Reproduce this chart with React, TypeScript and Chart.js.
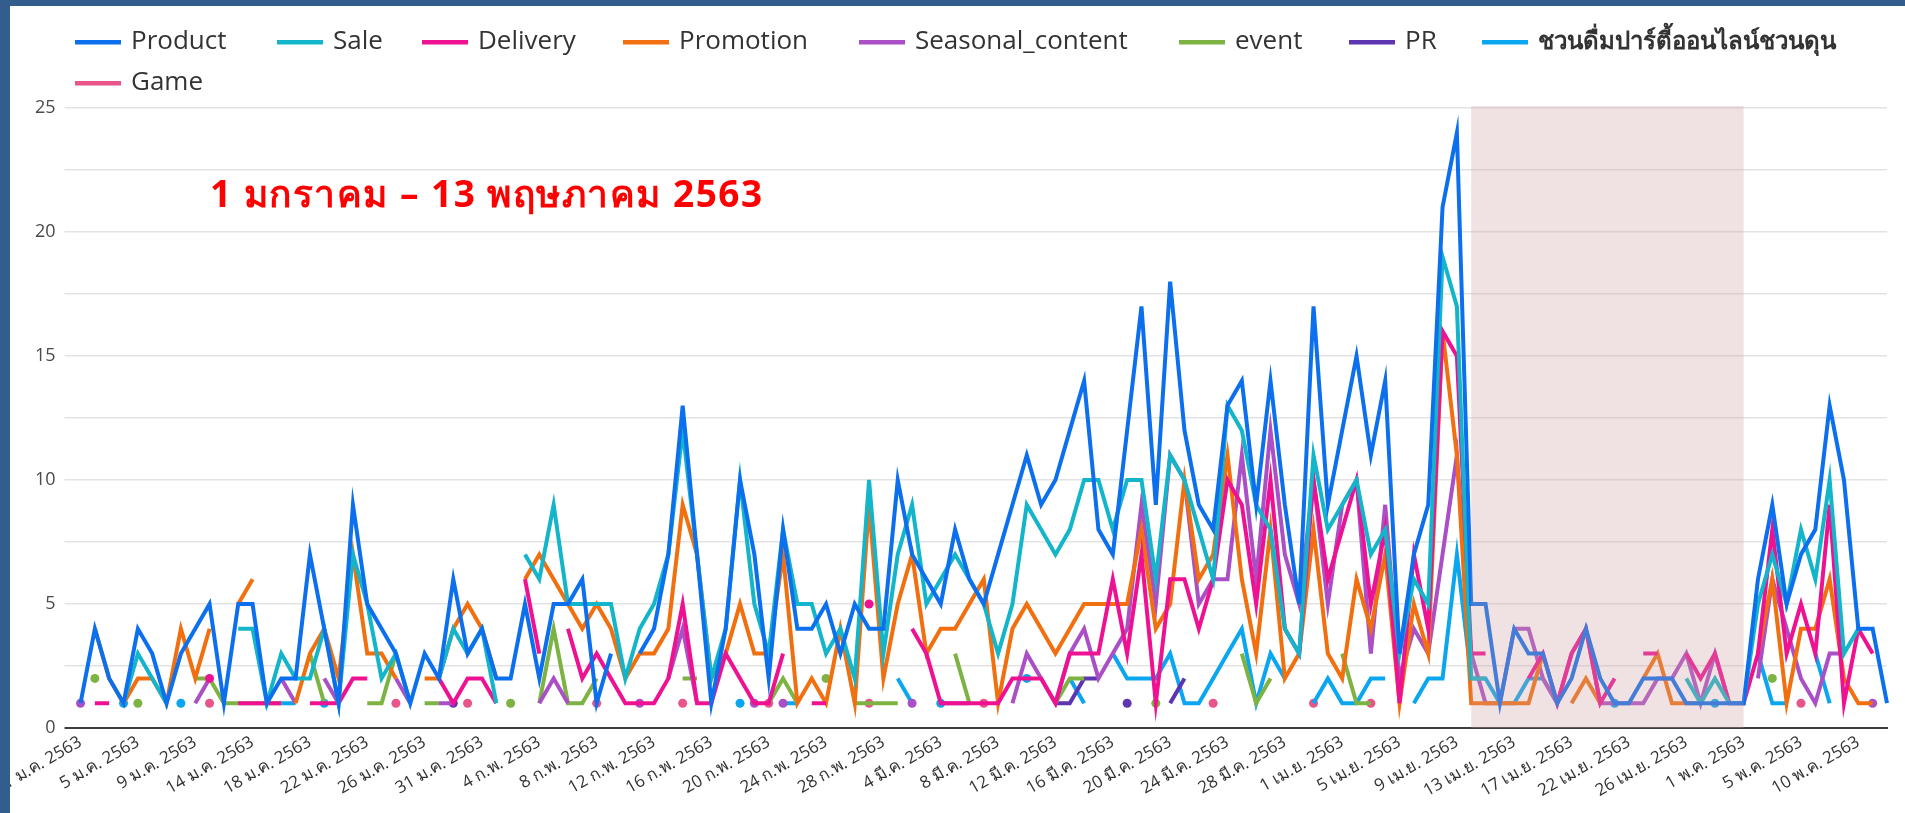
import React, { useEffect, useRef } from 'react';
import { Chart, registerables } from 'chart.js';

Chart.register(...registerables);

const _ = null;

const categories: string[] = [
  '1 ม.ค. 2563', '2 ม.ค. 2563', '3 ม.ค. 2563', '4 ม.ค. 2563', '5 ม.ค. 2563', '6 ม.ค. 2563', '7 ม.ค. 2563', '8 ม.ค. 2563', '9 ม.ค. 2563', '10 ม.ค. 2563',
  '11 ม.ค. 2563', '13 ม.ค. 2563', '14 ม.ค. 2563', '15 ม.ค. 2563', '16 ม.ค. 2563', '17 ม.ค. 2563', '18 ม.ค. 2563', '19 ม.ค. 2563', '20 ม.ค. 2563', '21 ม.ค. 2563',
  '22 ม.ค. 2563', '23 ม.ค. 2563', '24 ม.ค. 2563', '25 ม.ค. 2563', '26 ม.ค. 2563', '27 ม.ค. 2563', '28 ม.ค. 2563', '30 ม.ค. 2563', '31 ม.ค. 2563', '1 ก.พ. 2563',
  '2 ก.พ. 2563', '3 ก.พ. 2563', '4 ก.พ. 2563', '5 ก.พ. 2563', '6 ก.พ. 2563', '7 ก.พ. 2563', '8 ก.พ. 2563', '9 ก.พ. 2563', '10 ก.พ. 2563', '11 ก.พ. 2563',
  '12 ก.พ. 2563', '13 ก.พ. 2563', '14 ก.พ. 2563', '15 ก.พ. 2563', '16 ก.พ. 2563', '17 ก.พ. 2563', '18 ก.พ. 2563', '19 ก.พ. 2563', '20 ก.พ. 2563', '21 ก.พ. 2563',
  '22 ก.พ. 2563', '23 ก.พ. 2563', '24 ก.พ. 2563', '25 ก.พ. 2563', '26 ก.พ. 2563', '27 ก.พ. 2563', '28 ก.พ. 2563', '1 มี.ค. 2563', '2 มี.ค. 2563', '3 มี.ค. 2563',
  '4 มี.ค. 2563', '5 มี.ค. 2563', '6 มี.ค. 2563', '7 มี.ค. 2563', '8 มี.ค. 2563', '9 มี.ค. 2563', '10 มี.ค. 2563', '11 มี.ค. 2563', '12 มี.ค. 2563', '13 มี.ค. 2563',
  '14 มี.ค. 2563', '15 มี.ค. 2563', '16 มี.ค. 2563', '17 มี.ค. 2563', '18 มี.ค. 2563', '19 มี.ค. 2563', '20 มี.ค. 2563', '21 มี.ค. 2563', '22 มี.ค. 2563', '23 มี.ค. 2563',
  '24 มี.ค. 2563', '25 มี.ค. 2563', '26 มี.ค. 2563', '27 มี.ค. 2563', '28 มี.ค. 2563', '29 มี.ค. 2563', '30 มี.ค. 2563', '31 มี.ค. 2563', '1 เม.ย. 2563', '2 เม.ย. 2563',
  '3 เม.ย. 2563', '4 เม.ย. 2563', '5 เม.ย. 2563', '6 เม.ย. 2563', '7 เม.ย. 2563', '8 เม.ย. 2563', '9 เม.ย. 2563', '10 เม.ย. 2563', '11 เม.ย. 2563', '12 เม.ย. 2563',
  '13 เม.ย. 2563', '14 เม.ย. 2563', '15 เม.ย. 2563', '16 เม.ย. 2563', '17 เม.ย. 2563', '18 เม.ย. 2563', '19 เม.ย. 2563', '20 เม.ย. 2563', '22 เม.ย. 2563', '23 เม.ย. 2563',
  '24 เม.ย. 2563', '25 เม.ย. 2563', '26 เม.ย. 2563', '27 เม.ย. 2563', '28 เม.ย. 2563', '30 เม.ย. 2563', '1 พ.ค. 2563', '2 พ.ค. 2563', '3 พ.ค. 2563', '4 พ.ค. 2563',
  '5 พ.ค. 2563', '6 พ.ค. 2563', '7 พ.ค. 2563', '9 พ.ค. 2563', '10 พ.ค. 2563', '11 พ.ค. 2563', '13 พ.ค. 2563',
];

const product = [
  1, 4, 2, 1, 4, 3, 1, 3, 4, 5,
  1, 5, 5, 1, 2, 2, 7, 4, 1, 9,
  5, 4, 3, 1, 3, 2, 6, 3, 4, 2,
  2, 5, 2, 5, 5, 6, 1, 3, _, 3,
  4, 7, 13, 7, 1, 4, 10, 7, 2, 8,
  4, 4, 5, 3, 5, 4, 4, 10, 7, 6,
  5, 8, 6, 5, 7, 9, 11, 9, 10, 12,
  14, 8, 7, 12, 17, 9, 18, 12, 9, 8,
  13, 14, 9, 14, 9, 5, 17, 9, 12, 15,
  11, 14, 3, 7, 9, 21, 24, 5, 5, 1,
  4, 3, 3, 1, 2, 4, 2, 1, 1, 2,
  2, 2, 1, 1, 1, 1, 1, 6, 9, 5,
  7, 8, 13, 10, 4, 4, 1,
];

const sale = [
  _, _, _, 1, 3, 2, 1, _, _, _,
  _, 4, 4, 1, 3, 2, 2, 4, 1, 7,
  5, 2, 3, 1, _, 2, 4, 3, 4, 1,
  _, 7, 6, 9, 5, 5, 5, 5, 2, 4,
  5, 7, 12, 7, 2, 4, 10, 5, 3, 8,
  5, 5, 3, 4, 2, 10, 3, 7, 9, 5,
  6, 7, 6, 5, 3, 5, 9, 8, 7, 8,
  10, 10, 8, 10, 10, 6, 11, 10, 8, 6,
  13, 12, 9, 8, 4, 3, 11, 8, 9, 10,
  7, 8, 3, 6, 5, 19, 17, 2, 2, _,
  _, _, _, _, _, _, _, _, _, _,
  _, _, 2, 1, 2, 1, 1, 5, 7, 5,
  8, 6, 10, 3, 4, _, _,
];

const delivery = [
  _, 1, 1, _, _, _, _, _, _, 2,
  _, 1, 1, 1, 1, _, 1, 1, 1, 2,
  2, _, _, _, _, 2, 1, 2, 2, 1,
  _, 6, 3, _, 4, 2, 3, 2, 1, 1,
  1, 2, 5, 1, 1, 3, 2, 1, 1, 3,
  _, 1, 1, _, _, 5, _, _, 4, 3,
  1, 1, 1, 1, 1, 2, 2, 2, 1, 3,
  3, 3, 6, 3, 7, 1, 6, 6, 4, 6,
  10, 9, 5, 10, 4, 3, 10, 6, 8, 10,
  5, 8, 1, 7, 4, 16, 15, 3, 3, _,
  _, 2, 3, 1, 3, 4, 1, 2, _, 3,
  3, _, 3, 2, 3, 1, 1, 3, 8, 3,
  5, 3, 9, 1, 4, 3, _,
];

const promotion = [
  _, 4, 2, 1, 2, 2, 1, 4, 2, 4,
  _, 5, 6, _, _, 1, 3, 4, 2, 7,
  3, 3, 2, _, 2, 2, 4, 5, 4, 2,
  _, 6, 7, 6, 5, 4, 5, 4, 2, 3,
  3, 4, 9, 7, 2, 3, 5, 3, 3, 7,
  1, 2, 1, 4, 1, 9, 2, 5, 7, 3,
  4, 4, 5, 6, 1, 4, 5, 4, 3, 4,
  5, 5, 5, 5, 8, 4, 5, 10, 6, 7,
  11, 6, 3, 8, 2, 3, 8, 3, 2, 6,
  4, 7, 1, 5, 3, 16, 11, 1, 1, 1,
  1, 1, 3, _, 1, 2, 1, _, _, 2,
  3, 1, 1, 1, _, _, _, 3, 6, 1,
  4, 4, 6, 2, 1, 1, _,
];

const seasonal = [
  1, _, _, _, _, _, _, _, 1, 2,
  _, _, _, _, 2, 1, _, 2, 1, _,
  _, _, 2, 1, _, 1, 1, _, _, _,
  _, _, 1, 2, 1, _, _, _, _, 1,
  _, 2, 4, 1, _, _, _, 1, _, 1,
  _, _, _, _, _, _, _, _, 1, _,
  1, 1, 1, _, _, 1, 3, 2, 1, 3,
  4, 2, 3, 4, 9, 5, 11, 10, 5, 6,
  6, 11, 6, 12, 7, 5, 10, 5, 9, 10,
  3, 9, 2, 4, 3, 7, 11, 3, 1, 1,
  4, 4, 2, 1, 3, 4, 1, 1, 1, 1,
  2, 2, 3, 1, 3, 1, _, 2, 6, 4,
  2, 1, 3, 3, _, 1, _,
];

const eventSeries = [
  _, 2, _, _, 1, _, _, _, 2, 2,
  1, 1, 1, 1, 1, _, 3, 1, _, _,
  1, 1, 3, _, 1, 1, _, _, _, _,
  1, _, 1, 4, 1, 1, 2, _, _, _,
  _, _, 2, 2, _, _, _, _, 1, 2,
  1, _, 2, _, 1, 1, 1, 1, _, _,
  _, 3, 1, _, _, _, _, _, 1, 2,
  2, _, _, _, _, 1, _, _, _, _,
  _, 3, 1, 2, _, _, _, _, 3, 1,
  1, _, _, _, _, _, _, _, _, _,
  _, _, _, _, _, _, _, _, _, _,
  _, _, _, _, _, _, _, _, 2, _,
  _, _, _, _, _, _, _,
];

const pr = [
  _, _, _, _, _, _, _, _, _, _,
  _, _, _, _, _, _, _, _, _, _,
  _, _, _, _, _, _, 1, _, _, _,
  _, _, _, _, _, _, _, _, _, _,
  _, _, _, _, _, _, _, _, _, _,
  _, _, _, _, _, _, _, _, _, _,
  _, _, _, _, _, _, _, _, 1, 1,
  2, 2, _, 1, _, _, 1, 2, _, _,
  _, _, _, _, _, _, _, _, _, _,
  _, _, _, _, _, _, _, _, _, _,
  _, _, _, _, _, _, _, _, _, _,
  _, _, _, _, _, _, _, _, _, _,
  _, _, _, _, _, _, _,
];

const partyOnline = [
  _, _, _, 1, _, _, _, 1, _, _,
  _, _, _, _, 1, 1, _, 1, _, _,
  _, _, _, _, _, _, _, _, _, _,
  _, _, _, _, _, _, _, _, _, _,
  _, _, _, _, _, _, 1, _, _, 1,
  1, _, _, _, _, _, _, 2, 1, _,
  1, _, _, _, _, _, 2, _, _, 2,
  1, _, 3, 2, 2, 2, 3, 1, 1, 2,
  3, 4, 1, 3, 2, _, 1, 2, 1, 1,
  2, 2, _, 1, 2, 2, 7, 2, 2, 1,
  1, 2, 2, 1, _, _, _, 1, _, _,
  _, _, _, _, 1, _, _, 3, 1, 1,
  _, 3, 1, _, _, _, _,
];

const game = [
  _, _, _, _, _, _, _, _, _, 1,
  _, _, _, _, _, _, _, _, _, _,
  _, _, 1, _, _, _, _, 1, _, _,
  _, _, _, _, _, _, 1, _, _, _,
  _, _, 1, _, _, _, _, _, 1, _,
  _, _, _, _, _, 1, _, _, _, _,
  _, _, _, 1, _, _, _, _, _, _,
  _, _, _, _, _, _, _, _, _, 1,
  _, _, _, _, _, _, 1, _, _, _,
  1, _, _, _, _, _, _, _, _, _,
  _, _, _, _, _, _, _, _, _, _,
  _, _, _, _, _, _, _, _, _, _,
  1, _, _, _, _, _, _,
];

const seriesNames = ['Product', 'Sale', 'Delivery', 'Promotion', 'Seasonal_content', 'event', 'PR', 'ชวนดื่มปาร์ตี้ออนไลน์ชวนดุน', 'Game'];
const seriesValues = [product, sale, delivery, promotion, seasonal, eventSeries, pr, partyOnline, game];
const seriesColors = ['#0b6fee', '#12b5c9', '#ee1293', '#f26f10', '#ab4fc6', '#7cb342', '#5e35b1', '#0aa6f0', '#e8558a'];

const yTicks = [0, 5, 10, 15, 20, 25];
const shadeRange = [97, 116];
const periodText = '1 มกราคม – 13 พฤษภาคม 2563';

const FONT = "'Open Sans', 'Noto Sans', sans-serif";

export default function App() {
  const ref = useRef<HTMLCanvasElement | null>(null);

  useEffect(() => {
    const canvas = ref.current;
    if (!canvas) return;

    const isolated = (ctx: any) => {
      const d = ctx.dataset.data as (number | null)[];
      const i = ctx.dataIndex;
      if (d[i] == null) return 0;
      const prev = i > 0 ? d[i - 1] : null;
      const next = i < d.length - 1 ? d[i + 1] : null;
      return prev == null && next == null ? 4.5 : 0;
    };

    const framePlugin = {
      id: 'frame',
      beforeDraw(chart: any) {
        const c = chart.ctx;
        c.save();
        c.fillStyle = '#ffffff';
        c.fillRect(0, 0, chart.width, chart.height);
        c.restore();
      },
      afterDatasetsDraw(chart: any) {
        const c = chart.ctx;
        const xs = chart.scales.x;
        const ys = chart.scales.y;
        const x0 = xs.getPixelForValue(shadeRange[0]);
        const x1 = xs.getPixelForValue(shadeRange[1]);
        const yTop = chart.chartArea.top - 2;
        const yBot = ys.getPixelForValue(0);
        c.save();
        c.fillStyle = 'rgba(205,160,160,0.30)';
        c.fillRect(x0, yTop, x1 - x0, yBot - yTop);
        c.fillStyle = '#ff0000';
        c.font = `bold 37px ${FONT}`;
        try { (c as any).letterSpacing = '1.5px'; } catch (e) { /* ignore */ }
        c.textBaseline = 'middle';
        c.textAlign = 'left';
        c.fillText(periodText, 210, 196);
        c.restore();
      },
      afterDraw(chart: any) {
        const c = chart.ctx;
        c.save();
        const rows = [
          [75, 42, 0], [277, 42, 1], [422, 42, 2], [623, 42, 3], [859, 42, 4],
          [1179, 42, 5], [1349, 42, 6], [1482, 42, 7], [75, 83, 8],
        ];
        c.textBaseline = 'middle';
        c.textAlign = 'left';
        for (const [x, y, k] of rows) {
          c.fillStyle = seriesColors[k];
          c.fillRect(x, y - 2, 46, 4.5);
          c.fillStyle = '#333333';
          c.font = k === 7 ? `bold 24px ${FONT}` : `26px ${FONT}`;
          c.fillText(seriesNames[k], x + 56, y);
        }
        c.fillStyle = '#325d8c';
        c.fillRect(0, 0, 10, chart.height);
        c.fillRect(0, 0, chart.width, 6);
        c.restore();
      },
    };

    const chart = new Chart(canvas, {
      type: 'line',
      data: {
        labels: categories,
        datasets: seriesNames.map((name, k) => ({
          label: name,
          data: seriesValues[k],
          borderColor: seriesColors[k],
          backgroundColor: seriesColors[k],
          borderWidth: 4,
          pointRadius: isolated,
          pointHoverRadius: isolated,
          pointBorderWidth: 0,
          tension: 0,
          spanGaps: false,
          fill: false,
        })),
      },
      options: {
        responsive: false,
        animation: false,
        layout: { padding: { top: 108, right: 18, left: 0, bottom: 0 } },
        plugins: { legend: { display: false }, tooltip: { enabled: false }, title: { display: false } },
        scales: {
          x: {
            type: 'category',
            offset: false,
            grid: { display: false, drawTicks: false },
            border: { display: true, color: '#3c3c3c', width: 2 },
            ticks: {
              autoSkip: false,
              minRotation: 30,
              maxRotation: 30,
              padding: 4,
              color: '#333333',
              font: { family: FONT, size: 17 },
              callback: (_v: any, i: number) => (i % 4 === 0 ? categories[i] : ''),
            },
            afterFit: (s: any) => { s.height = 85; },
          },
          y: {
            min: 0,
            max: 25,
            grid: {
              color: (ctx: any) => (ctx.tick && ctx.tick.value === 0 ? '#3c3c3c' : '#e3e3e3'),
              lineWidth: (ctx: any) => (ctx.tick && ctx.tick.value === 0 ? 2 : 1.5),
              drawTicks: true,
              tickLength: 16,
            },
            border: { display: false },
            ticks: {
              stepSize: 2.5,
              padding: 9,
              color: '#4a4a4a',
              font: { family: FONT, size: 18 },
              callback: (v: any) => (yTicks.includes(Number(v)) ? String(v) : ''),
            },
            afterFit: (s: any) => { s.width = 77; },
          },
        },
      },
      plugins: [framePlugin],
    });

    return () => chart.destroy();
  }, []);

  return (
    <div style={{ position: 'fixed', left: 0, top: 0, width: 1905, height: 813, overflow: 'hidden' }}>
      <canvas ref={ref} width={1905} height={813} style={{ display: 'block', width: 1905, height: 813 }} />
    </div>
  );
}
